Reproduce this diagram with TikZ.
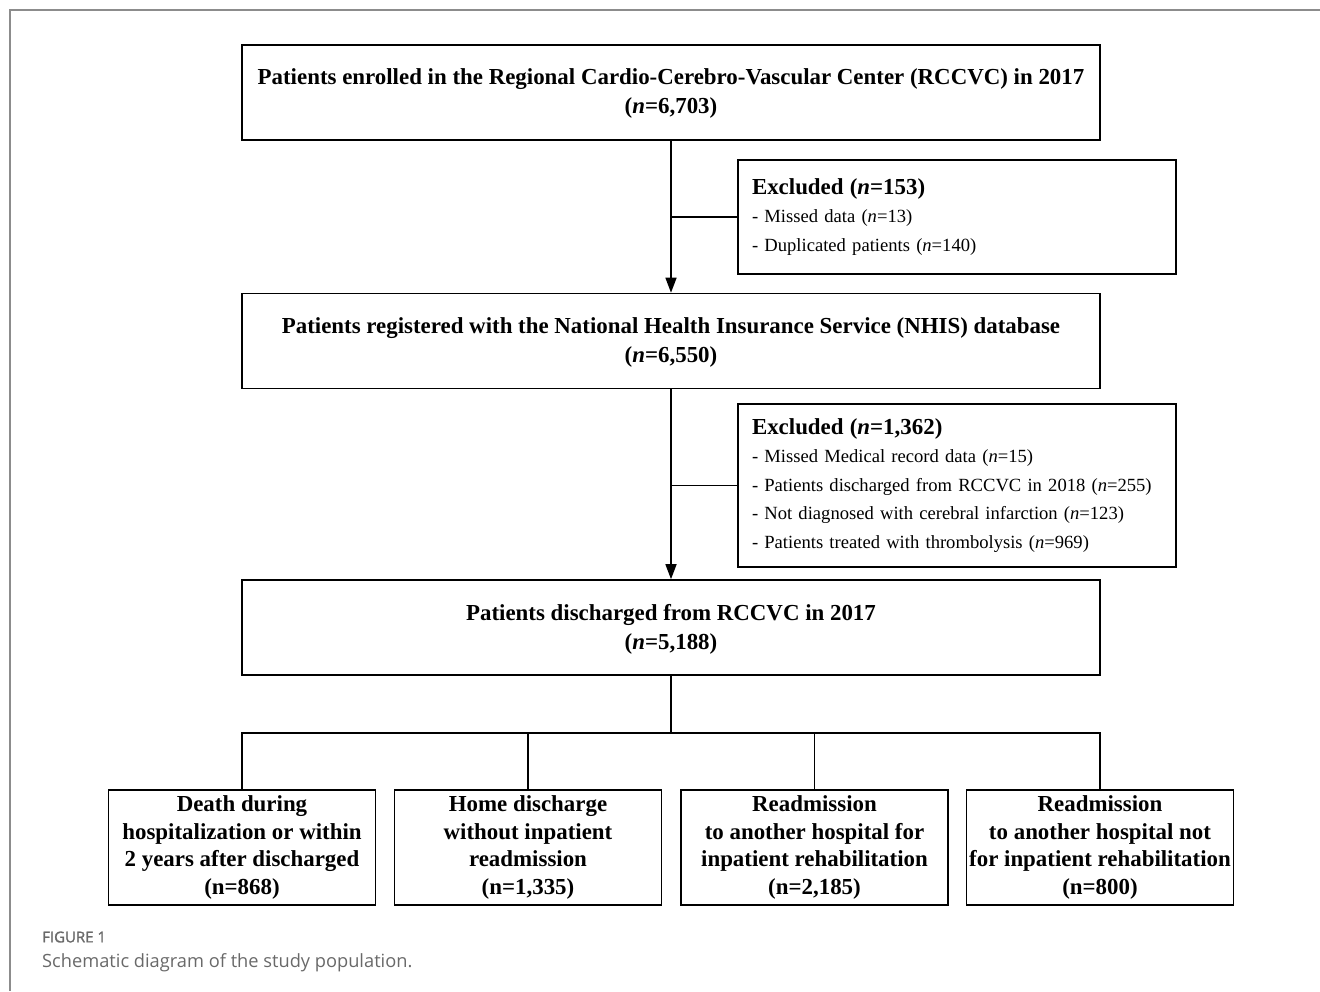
\documentclass[tikz,border=0pt]{standalone}
\usepackage{fontspec}
\setmainfont{Liberation Serif}
\newfontfamily\capfont{Open Sans}
\newfontfamily\caphead[FakeBold=1.5]{Open Sans}
\usetikzlibrary{arrows.meta}
\definecolor{framegray}{RGB}{140,140,140}
\definecolor{capgray}{RGB}{105,105,105}

\begin{document}
\begin{tikzpicture}[x=1pt,y=-1pt,
    box/.style={draw,line width=1.6pt,minimum width=858pt,minimum height=95pt,
      align=center,inner sep=0pt,text depth=2pt,font=\fontsize{22.9}{29}\selectfont\bfseries},
    exbox/.style={draw,line width=1.6pt,text width=410pt,inner xsep=14pt,inner ysep=0pt,
      align=left,font=\fontsize{18.6}{28.5}\selectfont},
    outbox/.style={draw,line width=1.6pt,minimum width=267pt,minimum height=115pt,
      align=center,inner sep=0pt,font=\fontsize{22.9}{27.5}\selectfont\bfseries},
    link/.style={line width=1.5pt},
    arr/.style={link,-{Triangle[length=15pt,width=11pt]}}]
    \useasboundingbox (0,0) rectangle (1320,991);
    \draw[framegray,line width=2pt] (1320,10) -- (10,10) -- (10,991);
    % main boxes
    \node[box] (B0) at (671,92.5) {Patients enrolled in the Regional Cardio-Cerebro-Vascular Center (RCCVC) in 2017\\(\textit{n}=6,703)};
    \node[box] (B1) at (671,341) {Patients registered with the National Health Insurance Service (NHIS) database\\(\textit{n}=6,550)};
    \node[box] (B2) at (671,627.5) {Patients discharged from RCCVC in 2017\\(\textit{n}=5,188)};
    % exclusions
    \node[exbox,minimum height=114pt] (E0) at (957,217) {{\fontsize{22.9}{27}\selectfont\bfseries Excluded (\textit{n}=153)}\\
      - Missed data (\textit{n}=13)\\
      - Duplicated patients (\textit{n}=140)};
    \node[exbox,minimum height=163pt] (E1) at (957,485.5) {{\fontsize{22.9}{27}\selectfont\bfseries Excluded (\textit{n}=1,362)}\\
      - Missed Medical record data (\textit{n}=15)\\
      - Patients discharged from RCCVC in 2018 (\textit{n}=255)\\
      - Not diagnosed with cerebral infarction (\textit{n}=123)\\
      - Patients treated with thrombolysis (\textit{n}=969)};
    % outcomes
    \node[outbox] (C0) at (242,847.5) {Death during\\hospitalization or within\\2 years after discharged\\(n=868)};
    \node[outbox] (C1) at (528,847.5) {Home discharge\\without inpatient\\readmission\\(n=1,335)};
    \node[outbox] (C2) at (814.5,847.5) {Readmission\\to another hospital for\\inpatient rehabilitation\\(n=2,185)};
    \node[outbox] (C3) at (1100,847.5) {Readmission\\to another hospital not\\for inpatient rehabilitation\\(n=800)};
    \coordinate (split) at (671,733);
    % connectors
    \draw[arr] (B0) -- (B1);
    \draw[arr] (B1) -- (B2);
    \draw[link] (E0.west) -- (E0.west -| B0.south);
    \draw[link] (E1.west) -- (E1.west -| B1.south);
    \draw[link] (B2.south) -- (split);
    \draw[link] (C0.north) |- (split) -| (C3.north);
    \draw[link] (C1.north) -- (C1.north |- split);
    \draw[link] (C2.north) -- (C2.north |- split);
    % caption
    \node[anchor=west,inner sep=0pt,text=capgray,font=\caphead\fontsize{15}{17}\selectfont] (fig) at (42,937) {FIGURE 1};
    \node[anchor=west,inner sep=0pt,text=capgray,font=\capfont\fontsize{18.25}{22}\selectfont] (cap) at (42,963) {Schematic diagram of the study population.};
\end{tikzpicture}
\end{document}
